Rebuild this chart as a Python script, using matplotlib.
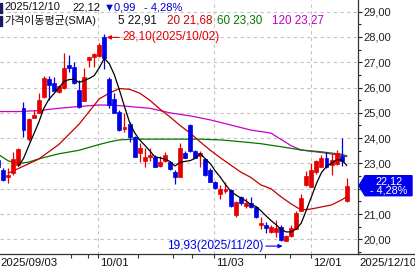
import matplotlib
matplotlib.use('Agg')
import matplotlib.pyplot as plt
import matplotlib.transforms as mtransforms
import numpy as np
import pandas as pd
from matplotlib.patches import Polygon, Rectangle
from matplotlib.lines import Line2D
from matplotlib.ticker import FixedLocator

FONT = ['Liberation Sans', 'Noto Sans CJK KR', 'DejaVu Sans']
plt.rcParams['font.family'] = FONT

# ---------------- data ----------------
opens = [23.15, 22.74, 22.47, 22.62, 22.95, 25.20, 23.95, 24.80, 25.00, 25.63,
         26.34, 26.18, 25.83, 25.98, 26.89, 26.81, 25.90, 25.47, 27.10, 27.20,
         27.25, 28.00, 26.34, 25.55, 25.04, 24.36, 24.56, 24.05, 23.42, 23.10,
         23.26, 23.27, 22.88, 23.10, 23.07, 22.68, 22.47, 23.42, 24.50, 23.50,
         23.28, 23.18, 22.74, 22.28, 21.80, 21.93, 21.95, 20.96, 21.67, 21.30,
         21.43, 21.28, 20.57, 20.58, 20.30, 20.30, 20.50, 19.95, 20.12, 20.42,
         21.12, 22.15, 22.08, 22.68, 22.87, 23.22, 22.92, 22.98, 23.28, 21.50]
highs = [23.30, 22.80, 22.82, 23.45, 23.60, 25.43, 24.80, 25.10, 25.80, 26.45,
         26.45, 26.42, 26.10, 27.37, 27.29, 27.00, 26.30, 26.77, 27.22, 27.36,
         27.75, 28.10, 26.40, 25.80, 25.10, 25.00, 24.65, 24.10, 23.80, 23.60,
         23.60, 23.35, 23.30, 23.45, 23.10, 22.75, 23.81, 23.50, 24.55, 23.55,
         23.48, 23.22, 22.80, 22.30, 22.15, 22.28, 22.00, 21.52, 21.70, 21.62,
         21.68, 21.30, 20.90, 20.70, 20.57, 20.77, 20.55, 20.18, 20.57, 21.10,
         21.80, 22.70, 23.00, 23.15, 23.35, 23.47, 23.40, 23.53, 24.00, 22.43]
lows = [22.80, 22.30, 22.23, 22.55, 22.90, 24.05, 23.90, 24.78, 24.98, 25.60,
        25.50, 25.85, 25.80, 25.95, 26.62, 26.15, 25.20, 25.45, 26.80, 26.80,
        27.20, 26.75, 25.19, 24.98, 24.30, 24.25, 23.85, 23.25, 23.05, 22.87,
        23.10, 22.84, 22.86, 23.05, 22.75, 22.20, 22.45, 23.20, 23.45, 23.20,
        22.86, 22.50, 22.25, 21.97, 21.58, 21.82, 21.28, 20.90, 21.35, 21.22,
        21.25, 20.85, 20.40, 20.25, 20.24, 20.10, 19.93, 19.93, 20.10, 20.40,
        21.10, 22.12, 22.05, 22.58, 22.85, 22.80, 22.55, 22.95, 22.90, 21.48]
closes = [22.85, 22.35, 22.55, 23.18, 23.58, 24.32, 24.75, 24.90, 25.50, 26.38,
          26.10, 25.87, 26.06, 26.77, 26.77, 26.18, 25.23, 26.42, 27.20, 27.33,
          27.70, 27.15, 25.31, 25.00, 24.32, 24.44, 24.05, 23.26, 23.60, 23.25,
          23.34, 22.87, 23.05, 23.34, 22.78, 22.45, 23.61, 23.22, 23.50, 23.22,
          23.42, 22.55, 22.27, 22.03, 21.98, 21.99, 21.30, 21.49, 21.43, 21.42,
          21.27, 20.90, 20.64, 20.44, 20.48, 20.44, 19.98, 20.12, 20.45, 21.03,
          21.62, 22.50, 22.76, 23.10, 23.20, 22.84, 23.15, 23.40, 23.11, 22.12]

# moving-average lines at candle positions
ma20_idx = [2, 4, 8, 12, 16, 19, 20, 22, 24, 26, 28, 30, 32, 34, 36, 38, 40, 42,
            44, 46, 48, 50, 52, 54, 56, 58, 60, 62, 64, 66, 68, 69]
ma20_val = [22.62, 22.80, 23.17, 23.75, 24.55, 25.30, 25.55, 25.78, 25.96, 25.93,
            25.78, 25.50, 25.15, 24.84, 24.50, 24.20, 23.85, 23.52, 23.22, 22.94,
            22.66, 22.45, 22.15, 22.00, 21.68, 21.40, 21.16, 21.20, 21.28, 21.36,
            21.56, 21.68]
ma60_idx = [0, 2, 4, 6, 8, 12, 16, 20, 22, 24, 27, 40, 44, 48, 52, 56, 60, 64, 68, 69]
ma60_val = [23.36, 23.10, 23.00, 23.05, 23.18, 23.38, 23.52, 23.75, 23.85, 23.93,
            23.96, 23.96, 23.93, 23.86, 23.78, 23.66, 23.53, 23.46, 23.36, 23.30]
ma120_idx = [0, 4, 8, 12, 16, 20, 23, 26, 30, 34, 38, 42, 46, 50, 54, 58, 60, 64, 68, 69]
ma120_val = [25.05, 25.05, 25.09, 25.18, 25.25, 25.31, 25.30, 25.25, 25.18, 25.00,
             24.88, 24.72, 24.52, 24.32, 24.20, 23.70, 23.53, 23.43, 23.32, 23.27]

date_ticks = [19.7, 42.7, 61.9]
date_labels = ['10/01', '11/03', '12/01']
minor_date_ticks = [14.4, 17.8, 27.7, 34.6, 38.4, 52.8, 57.8]
first_date = '2025/09/03'
last_date = '2025/12/10'
y_ticks = [20, 21, 22, 23, 24, 25, 26, 27, 28, 29]

header1 = ['2025/12/10', '22,12', '\u25bc0,99', '- 4,28%']
header2 = ['가격이동평균(SMA)', '5 22,91', '20 21,68', '60 23,30', '120 23,27']
hi_label = '28,10(2025/10/02)'
lo_label = '19,93(2025/11/20)'
box_lines = ['22,12', '- 4,28%']

RED = '#e60000'
BLUE = '#0000e6'
MA20_C = '#c00000'
MA60_C = '#007800'
MA120_C = '#c800c8'

# ---------------- figure ----------------
W, H = 415, 272
fig = plt.figure(figsize=(W / 100, H / 100), dpi=100)
fig.patch.set_facecolor('white')

ax_left, ax_right, ax_top, ax_bot = 0, 358, 0, 254
ax = fig.add_axes([ax_left / W, 1 - ax_bot / H, (ax_right - ax_left) / W, (ax_bot - ax_top) / H])
ax.set_facecolor('white')

n = len(closes)
x = np.arange(n)
ax.set_xlim(0.3465, 71.24)
ax.set_ylim(19.42, 29.46)

# grid
for v in range(20, 30):
    ax.axhline(v, color='#c4c4c4', lw=0.8, ls=(0, (3, 3)), zorder=0)
for t in date_ticks:
    ax.axvline(t, color='#c4c4c4', lw=0.8, ls=(0, (3, 3)), zorder=0)

# moving averages
ma5 = pd.Series(closes).rolling(5).mean()
ax.plot(ma120_idx, ma120_val, color=MA120_C, lw=0.9, zorder=2)
ax.plot(ma60_idx, ma60_val, color=MA60_C, lw=0.9, zorder=2)
ax.plot(ma20_idx, ma20_val, color=MA20_C, lw=0.9, zorder=2)

# candles
bw = 0.78
for i in range(n):
    o, h, l, c = opens[i], highs[i], lows[i], closes[i]
    col = RED if c >= o else BLUE
    ax.vlines(i, l, h, color=col, lw=0.9, zorder=3)
    bot = min(o, c)
    hgt = max(abs(c - o), 0.03)
    ax.add_patch(Rectangle((i - bw / 2, bot), bw, hgt, facecolor=col,
                           edgecolor=col, lw=0.5, zorder=4))

ax.plot(x, ma5, color='black', lw=0.9, zorder=5)

# spines/ticks
for s in ['left', 'top']:
    ax.spines[s].set_visible(False)
ax.spines['right'].set_color('#333333')
ax.spines['bottom'].set_color('#333333')
ax.spines['right'].set_linewidth(0.9)
ax.spines['bottom'].set_linewidth(0.9)
ax.yaxis.tick_right()
ax.set_yticks(y_ticks)
ax.set_yticklabels([f'{v:.2f}'.replace('.', ',') if v != 22 else '' for v in y_ticks])
ax.yaxis.set_minor_locator(FixedLocator([v + 0.5 for v in range(19, 30)]))
ax.tick_params(axis='y', which='major', direction='out', length=3, width=0.8,
               pad=1, labelsize=8, colors='#222222')
ax.tick_params(axis='y', which='minor', direction='out', length=2, width=0.8,
               colors='#222222')
ax.set_xticks(date_ticks)
ax.set_xticklabels([])
ax.xaxis.set_minor_locator(FixedLocator(minor_date_ticks))
ax.tick_params(axis='x', which='both', direction='out', length=3, width=0.8,
               colors='#333333')

# annotations for high / low (arrow drawn a few pixels below the extreme)
down3 = mtransforms.offset_copy(ax.transData, fig=fig, x=0, y=-3, units='dots')
down5 = mtransforms.offset_copy(ax.transData, fig=fig, x=0, y=-5, units='dots')
ih = int(np.argmax(highs))
il = int(np.argmin(lows))
ax.annotate(hi_label, xy=(ih + 0.5, highs[ih]), xycoords=down3,
            xytext=(11, 0), textcoords='offset points',
            color=RED, fontsize=8.6, va='center', ha='left',
            arrowprops=dict(arrowstyle='-|>', color=RED, lw=0.8, mutation_scale=6,
                            shrinkA=0, shrinkB=0), zorder=6)
ax.annotate(lo_label, xy=(il + 0.3, lows[il]), xycoords=down5,
            xytext=(-14, 0), textcoords='offset points',
            color=BLUE, fontsize=8.6, va='center', ha='right',
            arrowprops=dict(arrowstyle='-|>', color=BLUE, lw=0.8, mutation_scale=6,
                            shrinkA=0, shrinkB=0), zorder=6)

# ---------------- overlay in pixel space ----------------
ov = fig.add_axes([0, 0, 1, 1], facecolor='none')
ov.set_xlim(0, W)
ov.set_ylim(H, 0)
ov.axis('off')

# bottom line extension
ov.add_line(Line2D([ax_right, W], [ax_bot, ax_bot], color='#333333', lw=0.9))

# date labels
ov.text(0, 263, first_date, fontsize=8.2, ha='left', va='center', color='#111111')
for t, lab in zip(date_ticks, date_labels):
    px = ax.transData.transform((t, 20))[0]
    ov.text(px + 2, 263, lab, fontsize=8.2, ha='left', va='center', color='#111111')
ov.text(W + 1, 263, last_date, fontsize=8.2, ha='right', va='center', color='#111111')

# header
ov.add_patch(Rectangle((0, 2.5), 2, 10, color='#1a1a60'))
ov.add_patch(Rectangle((0, 15.5), 2, 10, color='#1a1a60'))
h1x = [4, 72, 104, 144]
h1c = ['#111111', '#111111', '#0000cc', '#0000cc']
for xx, s, c in zip(h1x, header1, h1c):
    ov.text(xx, 7.5, s, fontsize=8.0, ha='left', va='center', color=c)
h2x = [4, 118, 167, 217, 272]
h2c = ['#111111', '#111111', '#d00000', '#007800', '#c000c0']
h2s = [7.9, 8.4, 8.4, 8.4, 8.4]
for xx, s, c, fs in zip(h2x, header2, h2c, h2s):
    ov.text(xx, 20.5, s, fontsize=fs, ha='left', va='center', color=c)

# current price box
yc = ax.transData.transform((0, closes[-1]))[1]
ypx = H - yc
box = Polygon([(359, ypx), (365, ypx - 10), (412, ypx - 10), (412, ypx + 10), (365, ypx + 10)],
              closed=True, facecolor='#0000ee', edgecolor='#0000ee')
ov.add_patch(box)
ov.text(389, ypx - 4.5, box_lines[0], fontsize=7.8, ha='center', va='center', color='white')
ov.text(389, ypx + 5, box_lines[1], fontsize=7.8, ha='center', va='center', color='white')

fig.savefig('out.png', dpi=100)
